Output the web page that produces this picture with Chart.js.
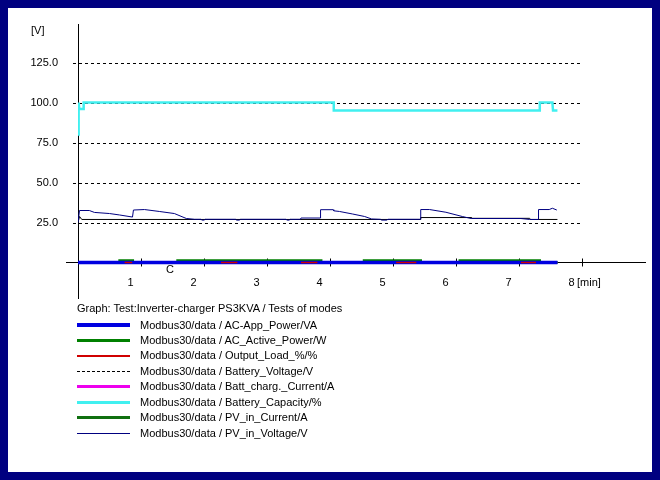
<!DOCTYPE html>
<html>
<head>
<meta charset="utf-8">
<script src="https://cdn.jsdelivr.net/npm/chart.js@4.4.1/dist/chart.umd.min.js"></script>
<style>
  body { margin:0; width:660px; height:480px; background:#000080; overflow:hidden;
         font-family:"Liberation Sans", Arial, sans-serif; font-size:11px; color:#000; }
  #panel { position:absolute; left:8px; top:8px; width:644px; height:464px; background:#fff; }
  #wrap { position:absolute; left:0; top:0; width:644px; height:464px; }
  .lbl { position:absolute; white-space:nowrap; line-height:13px; }
  .row { position:absolute; left:69px; height:13px; line-height:13px; white-space:nowrap; }
  .smp { position:absolute; left:0; width:53px; height:0; }
  .txt { position:absolute; left:63px; top:0; }
</style>
</head>
<body>
<div id="panel">
  <div id="wrap"><canvas id="c"></canvas></div>
  <div class="lbl" style="left:23px;top:16px">[V]</div>
  <div class="lbl" style="left:158px;top:255px">C</div>
  <div class="lbl" style="left:569px;top:268px">[min]</div>
  <div id="legend"></div>
</div>
<script>
// Graph: Test:Inverter-charger PS3KVA / Tests of modes
const graphTitle = "Graph: Test:Inverter-charger PS3KVA / Tests of modes";
const xTicks = [1, 2, 3, 4, 5, 6, 7, 8];
const yTicks = [25, 50, 75, 100, 125];

// AC-App_Power/VA
const appT = [0, 7.61];
const appV = [0, 0];
// AC_Active_Power/W
const actT = [0, 0.66, 0.66, 0.87, 0.87, 1.58, 1.58, 3.86, 3.86, 4.54, 4.54, 5.44, 5.44, 6.06, 6.06, 7.33, 7.33, 7.61];
const actV = [0, 0, 1.2, 1.2, 0, 0, 1.2, 1.2, 0, 0, 1.2, 1.2, 0, 0, 1.2, 1.2, 0, 0];
// Output_Load_%/%
const loadT = [0.74, 0.86, 0.87, 2.27, 2.53, 2.54, 3.54, 3.80, 3.81, 5.05, 5.37, 5.38, 7.03, 7.27];
const loadV = [0, 0, null, 0, 0, null, 0, 0, null, 0, 0, null, 0, 0];
// Battery_Voltage/V
const bvT = [0, 0.025, 0.06, 5.43, 5.44, 6.25, 6.26, 7.17, 7.18, 7.61];
const bvV = [25, 28.75, 26.9, 26.9, 28.1, 28.1, 27.6, 27.6, 26.9, 26.9];
// Batt_charg._Current/A
const bcT = [0, 7.61];
const bcV = [0, 0];
// Battery_Capacity/%
const capT = [0, 0.01, 0.02, 0.08, 0.09, 4.06, 4.06, 7.32, 7.33, 7.53, 7.54, 7.61];
const capV = [80, 100, 96, 96, 100, 100, 95, 95, 100, 100, 95, 95];
// PV_in_Current/A
const pvcT = [0, 7.61];
const pvcV = [0, 0];
// PV_in_Voltage/V
const pvvT = [0, 0.024, 0.18, 0.26, 0.5, 0.66, 0.865, 0.88, 1.055, 1.29, 1.53, 1.72, 1.85, 1.95, 1.97, 2.0, 2.02,
              2.5, 2.52, 2.56, 2.58, 3.3, 3.32, 3.35, 3.37, 3.53, 3.54, 3.85, 3.85, 4.05, 4.06, 4.15, 4.36, 4.55, 4.66,
              4.8, 4.82, 4.9, 4.92, 5.44, 5.44, 5.58, 5.84, 6.10, 6.24, 7.03, 7.17, 7.31, 7.31, 7.48, 7.53, 7.6];
const pvvV = [25, 32.5, 32.5, 31.3, 30.6, 29.7, 28.4, 32.8, 33.1, 31.9, 30.6, 27.5, 27.0, 27.0, 26.5, 26.5, 27.0,
              27.0, 26.5, 26.5, 27.0, 27.0, 26.5, 26.5, 27.0, 27.0, 27.8, 27.8, 33.0, 33.0, 32.3, 31.9, 30.3, 28.75, 27.2,
              27.0, 26.5, 26.5, 27.0, 27.0, 33.1, 33.1, 31.4, 28.75, 27.5, 27.5, 26.9, 26.9, 33.1, 33.1, 33.9, 32.8];

const names = [
  "Modbus30/data / AC-App_Power/VA",
  "Modbus30/data / AC_Active_Power/W",
  "Modbus30/data / Output_Load_%/%",
  "Modbus30/data / Battery_Voltage/V",
  "Modbus30/data / Batt_charg._Current/A",
  "Modbus30/data / Battery_Capacity/%",
  "Modbus30/data / PV_in_Current/A",
  "Modbus30/data / PV_in_Voltage/V"
];
const colors = ["#0000e0", "#008000", "#d00000", "#000000", "#ee00ee", "#40f0f0", "#107010", "#000080"];
const widths = [3.5, 2.5, 1.5, 1, 2.5, 2.5, 2.5, 1];
const legendDash = [false, false, false, true, false, false, false, false];
const drawOrder = [1, 2, 0, 6, 4, 5, 3, 4];

const series = [[appT, appV], [actT, actV], [loadT, loadV], [bvT, bvV], [bcT, bcV], [capT, capV], [pvcT, pvcV], [pvvT, pvvV]];

function pts(t, v) {
  return t.map((x, i) => ({ x: x, y: v[i] }));
}

// gestrichelte Hilfslinien, Achsverlängerung, x-Ticks
const extras = {
  id: 'extras',
  beforeDatasetsDraw(chart) {
    const c = chart.ctx, xs = chart.scales.x, ys = chart.scales.y;
    const x0 = xs.getPixelForValue(0), x8 = xs.getPixelForValue(8);
    const y0 = ys.getPixelForValue(0);
    c.save();
    c.strokeStyle = '#000';
    c.lineWidth = 1;
    c.setLineDash([3, 3]);
    for (const v of yTicks) {
      const y = Math.round(ys.getPixelForValue(v)) + 0.5;
      c.beginPath(); c.moveTo(x0 - 5, y); c.lineTo(x8, y); c.stroke();
    }
    c.setLineDash([]);
    const ya = Math.round(y0) + 0.5;
    c.beginPath(); c.moveTo(x0 - 12, ya); c.lineTo(x0, ya); c.stroke();
    for (const t of xTicks) {
      const x = Math.round(xs.getPixelForValue(t)) + 0.5;
      c.beginPath(); c.moveTo(x, ya - 4); c.lineTo(x, ya + 4); c.stroke();
    }
    c.restore();
  }
};

const chart = new Chart(document.getElementById('c').getContext('2d'), {
  type: 'line',
  data: {
    datasets: series.map((s, i) => ({
      label: names[i],
      data: pts(s[0], s[1]),
      borderColor: colors[i],
      backgroundColor: colors[i],
      borderWidth: widths[i],
      pointRadius: 0,
      tension: 0,
      spanGaps: false,
      order: drawOrder[i],
      borderCapStyle: 'butt'
    }))
  },
  options: {
    responsive: true,
    maintainAspectRatio: false,
    animation: false,
    layout: { padding: { left: 0, top: 16.5, right: 7, bottom: 173.5 } },
    plugins: { legend: { display: false }, tooltip: { enabled: false } },
    scales: {
      x: {
        type: 'linear',
        min: 0, max: 9,
        position: { y: 0 },
        afterBuildTicks: s => { s.ticks = xTicks.map(v => ({ value: v })); },
        grid: { display: false },
        border: { display: true, color: '#000', width: 1 },
        ticks: {
          autoSkip: false, maxRotation: 0, padding: 6, labelOffset: -10.5,
          color: '#000', font: { family: 'Liberation Sans', size: 11 },
          callback: v => String(v)
        }
      },
      y: {
        type: 'linear',
        min: -22.5, max: 148.75,
        afterFit: s => { s.width = 70; s.paddingTop = 0; s.paddingBottom = 0; },
        afterBuildTicks: s => { s.ticks = yTicks.map(v => ({ value: v })); },
        grid: { display: true, drawOnChartArea: false, drawTicks: false },
        border: { display: true, color: '#000', width: 1 },
        ticks: {
          padding: 20, color: '#000', font: { family: 'Liberation Sans', size: 11 },
          callback: v => v.toFixed(1)
        }
      }
    }
  },
  plugins: [extras]
});

// Legende unter der Grafik
const lg = document.getElementById('legend');
let html = `<div class="lbl" style="left:69px;top:294px">${graphTitle}</div>`;
chart.data.datasets.forEach((ds, i) => {
  const top = 310.5 + i * 15.45;
  const w = Math.max(1, Math.round(ds.borderWidth));
  const style = legendDash[i] ? 'dashed' : 'solid';
  html += `<div class="row" style="top:${top}px">` +
    `<span class="smp" style="top:${6.5 - w / 2}px;border-top:${w}px ${style} ${ds.borderColor}"></span>` +
    `<span class="txt">${ds.label}</span></div>`;
});
lg.innerHTML = html;
</script>
</body>
</html>
